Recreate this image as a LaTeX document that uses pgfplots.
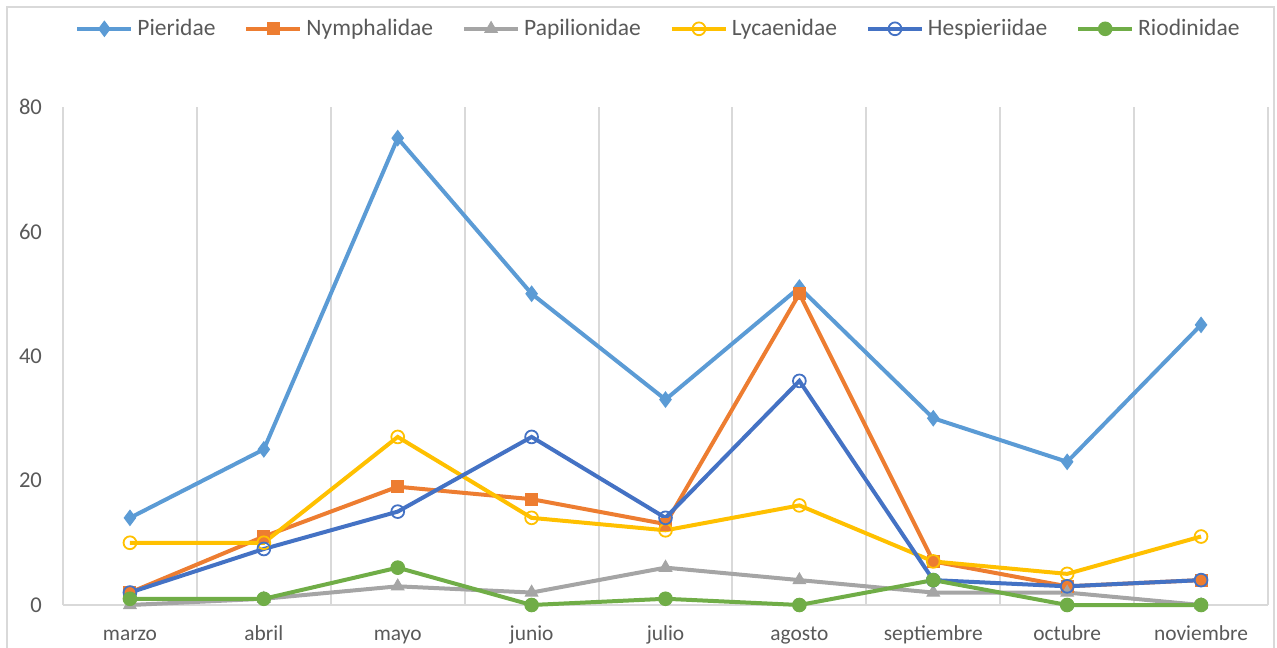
\documentclass[border=0pt]{standalone}
\usepackage{pgfplots}
\usepackage{pgfplotstable}
\pgfplotsset{compat=1.18}
\usepackage{fontspec}
\setmainfont{Carlito}

\definecolor{pier}{HTML}{5B9BD5}
\definecolor{nymph}{HTML}{ED7D31}
\definecolor{papil}{HTML}{A5A5A5}
\definecolor{lyca}{HTML}{FFC000}
\definecolor{hesp}{HTML}{4472C4}
\definecolor{riod}{HTML}{70AD47}
\definecolor{gridgray}{HTML}{D9D9D9}
\definecolor{txtgray}{HTML}{595959}

\pgfplotstableread{
x Pieridae Nymphalidae Papilionidae Lycaenidae Hespieriidae Riodinidae
0 14 2  0 10 2  1
1 25 11 1 10 9  1
2 75 19 3 27 15 6
3 50 17 2 14 27 0
4 33 13 6 12 14 1
5 51 50 4 16 36 0
6 30 7  2 7  4  4
7 23 3  2 5  3  0
8 45 4  0 11 4  0
}\datatable

\begin{document}
\begin{tikzpicture}[x=1pt,y=1pt]
\useasboundingbox (0,0) rectangle (638.5,323.5);
\draw[gridgray, line width=1pt] (3.5,-20) rectangle (637,320);
\begin{axis}[
    at={(31.5pt,21pt)}, anchor=south west,
    scale only axis,
    width=602.5pt, height=249pt,
    xmin=-0.5, xmax=8.5,
    ymin=0, ymax=80,
    ytick={0,20,40,60,80},
    xtick={0,...,8},
    xticklabels={marzo,abril,mayo,junio,julio,agosto,septiembre,octubre,noviembre},
    minor xtick={-0.5,0.5,...,8.5},
    xminorgrids=true,
    minor grid style={gridgray, line width=1pt},
    separate axis lines,
    axis x line*=bottom,
    axis y line*=left,
    axis line style={gridgray, line width=1pt, -},
    major tick length=0pt, minor tick length=0pt,
    tick style={draw=none},
    /pgf/number format/assume math mode=true,
    ticklabel style={font=\fontsize{10.7}{12}\selectfont, text=txtgray},
    yticklabel style={font=\fontsize{11.3}{12}\selectfont, xshift=-7pt},
    xticklabel style={anchor=base, yshift=-17.5pt},
    clip=false,
    every axis plot/.append style={line width=2pt},
    legend columns=6,
    legend style={at={(0.495,1.157)}, anchor=center, draw=none, fill=none,
        font=\fontsize{11.75}{13}\selectfont, text=txtgray,
        /tikz/every even column/.append style={column sep=12.5pt},
        inner sep=0pt},
    legend image code/.code={\draw[mark repeat=2, mark phase=2] plot coordinates {(0pt,0pt) (13.5pt,0pt) (27pt,0pt)};},
]
\addplot[pier, mark=diamond*, mark size=3.8pt, mark options={line width=0.5pt}] table[x=x, y=Pieridae] {\datatable};
\addlegendentry{Pieridae}
\addplot[nymph, mark=square*, mark size=3pt, mark options={line width=0.5pt}] table[x=x, y=Nymphalidae] {\datatable};
\addlegendentry{Nymphalidae}
\addplot[papil, mark=triangle*, mark size=3.6pt, mark options={line width=0.5pt}] table[x=x, y=Papilionidae] {\datatable};
\addlegendentry{Papilionidae}
\addplot[lyca, mark=o, mark size=3.2pt, mark options={line width=0.9pt}] table[x=x, y=Lycaenidae] {\datatable};
\addlegendentry{Lycaenidae}
\addplot[hesp, mark=o, mark size=3.2pt, mark options={line width=0.9pt}] table[x=x, y=Hespieriidae] {\datatable};
\addlegendentry{Hespieriidae}
\addplot[riod, mark=*, mark size=3.4pt, mark options={line width=0.5pt}] table[x=x, y=Riodinidae] {\datatable};
\addlegendentry{Riodinidae}
\end{axis}
\end{tikzpicture}
\end{document}
